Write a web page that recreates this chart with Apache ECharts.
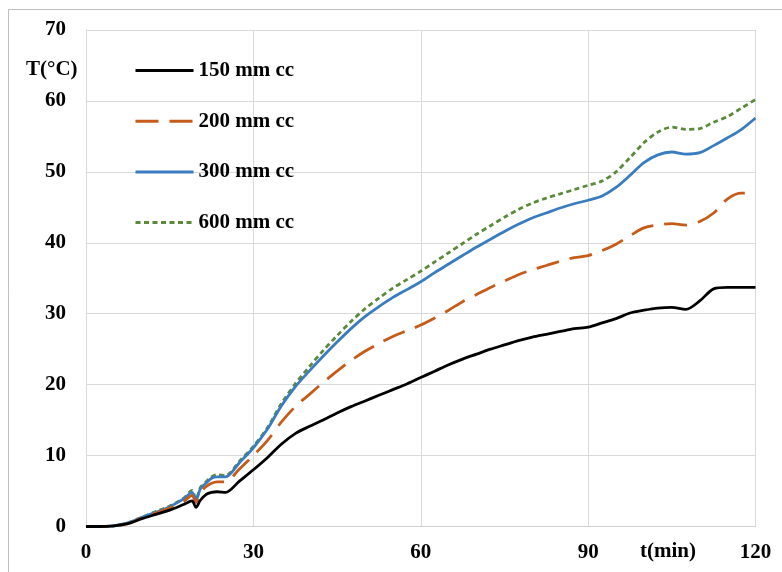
<!DOCTYPE html>
<html>
<head>
<meta charset="utf-8">
<script src="https://cdn.jsdelivr.net/npm/echarts@6/dist/echarts.min.js"></script>
<style>
html,body{margin:0;padding:0;background:#fff;}
#chart{width:782px;height:572px;}
</style>
</head>
<body>
<div id="chart"></div>
<script>
var seriesNames = ['150 mm cc', '200 mm cc', '300 mm cc', '600 mm cc'];
var times = [0,2.5,5,7.5,10,12.5,15,17.5,19,19.7,20.5,21.5,22.5,23.5,25,27.5,30,32.5,35,37.5,40,42.5,45,47.5,50,52.5,55,57.5,60,62.5,65,67.5,70,72.5,75,77.5,80,82.5,85,87.5,90,92.5,95,97.5,100,102.5,105,107.5,110,112.5,115,117.5,120];
var t150 = [0,0,0.1,0.4,1.1,1.7,2.3,3.1,3.6,2.7,3.7,4.5,4.8,4.9,4.8,6.4,8.0,9.7,11.6,13.1,14.1,15.0,16.0,16.9,17.7,18.5,19.3,20.1,21.0,21.9,22.8,23.6,24.3,25.0,25.6,26.2,26.7,27.1,27.5,27.9,28.1,28.7,29.3,30.1,30.5,30.8,30.9,30.6,31.8,33.5,33.7,33.7,33.7];
var t200 = [0,0,0.1,0.4,1.2,1.9,2.6,3.5,4.4,3.4,4.8,5.6,6.1,6.3,6.3,8.1,10.0,12.1,14.7,16.9,18.6,20.3,21.9,23.4,24.7,25.8,26.8,27.6,28.4,29.4,30.5,31.7,32.7,33.7,34.6,35.5,36.2,36.8,37.4,37.9,38.2,38.9,39.8,41.0,42.1,42.5,42.7,42.5,43.0,44.2,46.2,47.0,47.0];
var t300 = [0,0,0.1,0.5,1.3,2.0,2.8,3.9,4.8,3.7,5.3,6.1,6.8,7.0,7.0,9.0,11.1,13.7,17.0,19.7,21.9,24.0,26.0,27.9,29.6,31.0,32.3,33.4,34.5,35.8,37.0,38.2,39.4,40.5,41.6,42.6,43.5,44.2,44.9,45.5,46.0,46.6,47.8,49.5,51.3,52.4,52.8,52.5,52.7,53.7,54.8,56.0,57.6];
var t600 = [0,0,0.1,0.5,1.3,2.1,2.9,4.0,5.1,3.8,5.5,6.3,7.0,7.3,7.2,9.2,11.3,13.9,17.3,20.1,22.5,24.8,26.9,28.9,30.7,32.2,33.6,34.8,36.0,37.3,38.6,39.9,41.2,42.4,43.6,44.7,45.6,46.3,46.9,47.5,48.1,48.7,50.0,52.0,54.1,55.6,56.3,56.0,56.1,57.0,57.8,59.0,60.2];
var xTicks = [0, 30, 60, 90, 120];
var yTicks = [0, 10, 20, 30, 40, 50, 60, 70];

var FONT = '"Liberation Serif", "Times New Roman", serif';
function pairs(vals){ return times.map(function(t,i){ return [t, vals[i]]; }); }
var allVals = [t150, t200, t300, t600];
var colors = ['#000000', '#C65B1A', '#3A7CC0', '#5B8A3A'];
var dashes = ['solid', [23, 11], 'solid', [5, 3.5]];

var chart = echarts.init(document.getElementById('chart'), null, {renderer: 'canvas'});
chart.setOption({
  animation: false,
  backgroundColor: '#ffffff',
  grid: {left: 86, right: 26.5, top: 30, bottom: 45.5, containLabel: false},
  xAxis: {
    type: 'value', min: xTicks[0], max: xTicks[xTicks.length-1], interval: 30,
    axisLine: {show: true, lineStyle: {color: '#d0d0d0', width: 1}},
    axisTick: {show: false},
    splitLine: {show: true, lineStyle: {color: '#d9d9d9', width: 1}},
    axisLabel: {margin: 16, color: '#000', fontFamily: FONT, fontWeight: 'bold', fontSize: 21}
  },
  yAxis: {
    type: 'value', min: yTicks[0], max: yTicks[yTicks.length-1], interval: 10,
    axisLine: {show: true, lineStyle: {color: '#d9d9d9', width: 1}},
    axisTick: {show: false},
    splitLine: {show: true, lineStyle: {color: '#d9d9d9', width: 1}},
    axisLabel: {margin: 20, color: '#000', fontFamily: FONT, fontWeight: 'bold', fontSize: 21}
  },
  legend: {
    orient: 'vertical', left: 134, top: 60, padding: 0,
    itemWidth: 58, itemHeight: 20, itemGap: 29.7,
    data: seriesNames,
    lineStyle: {width: 3},
    itemStyle: {color: 'rgba(0,0,0,0)', borderWidth: 0, borderColor: 'rgba(0,0,0,0)'},
    textStyle: {color: '#000', fontFamily: FONT, fontWeight: 'bold', fontSize: 21, lineHeight: 20}
  },
  graphic: [
    {type: 'text', left: 26, top: 59, style: {text: 'T(°C)', fill: '#000', font: 'bold 21px ' + FONT}},
    {type: 'text', left: 640, top: 541, style: {text: 't(min)', fill: '#000', font: 'bold 21px ' + FONT}},
    {type: 'polyline', shape: {points: [[8.5, 600], [8.5, 9.5], [800, 9.5]]}, style: {stroke: '#bfbfbf', lineWidth: 1, fill: null}}
  ],
  series: seriesNames.map(function(name, i){
    return {
      name: name, type: 'line', data: pairs(allVals[i]),
      symbol: 'circle', showSymbol: false, smooth: 0.3,
      lineStyle: {color: colors[i], width: 2.8, type: dashes[i]},
      itemStyle: {color: colors[i]},
      z: 10 - i
    };
  })
});
</script>
</body>
</html>
